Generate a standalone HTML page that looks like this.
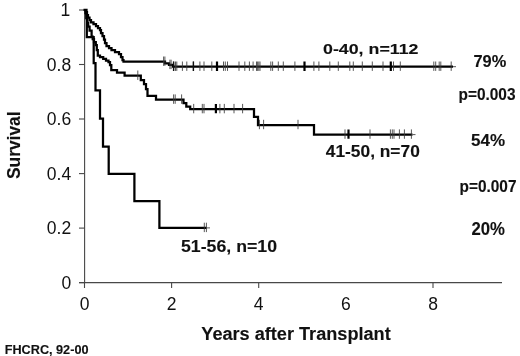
<!DOCTYPE html>
<html><head><meta charset="utf-8"><title>Survival by age</title>
<style>
html,body{margin:0;padding:0;background:#fff;}
body{width:520px;height:356px;overflow:hidden;}
svg{display:block;}
text{font-family:"Liberation Sans",Arial,Helvetica,sans-serif;fill:#111;}
.b{font-weight:bold;stroke:#111;stroke-width:0.12px;}
</style></head><body>
<svg width="520" height="356" viewBox="0 0 520 356">
<rect width="520" height="356" fill="#fff"/>
<g stroke="#484848" stroke-width="1.1" fill="none">
<path d="M84.6,10 V282.6 M79,282.6 H502"/>
<path d="M79,282.6 H84.5"/>
<path d="M79,228.1 H84.5"/>
<path d="M79,173.6 H84.5"/>
<path d="M79,119.0 H84.5"/>
<path d="M79,64.5 H84.5"/>
<path d="M79,10.0 H84.5"/>
<path d="M84.5,282.6 V288"/>
<path d="M171.6,282.6 V288"/>
<path d="M258.7,282.6 V288"/>
<path d="M433.0,282.6 V288"/>
</g>
<g font-size="17.5" text-anchor="end">
<text x="71.2" y="288.9">0</text>
<text x="71.2" y="234.4">0.2</text>
<text x="71.2" y="179.9">0.4</text>
<text x="71.2" y="125.3">0.6</text>
<text x="71.2" y="70.8">0.8</text>
<text x="70.2" y="16.3">1</text>
</g>
<g font-size="17.5" text-anchor="middle">
<text x="84.5" y="309.7">0</text>
<text x="171.6" y="309.7">2</text>
<text x="258.7" y="309.7">4</text>
<text x="345.9" y="309.7">6</text>
<text x="433.0" y="309.7">8</text>
</g>
<g stroke="#000" stroke-width="2.25" fill="none" stroke-linejoin="miter">
<path d="M83.5,9.8 H86.5 V12 H87  V15 H88 V17.5 H89.5 V20 H91 V22.3 H93.5 V24 H96 V26 H98 V28 H100 V30 H101 V33 H102.5 V36 H104 V39.5 H105 V43 H106.5 V46 H109 V48 H111.5 V50 H115 V52 H119 V54 H121 V57 H122.5 V60 H123.5 V61.7 H165 V63.3 H169 V64.9 H173 V66.7 H453"/>
<path d="M85.5,10 V13 H86.3 V18 H87.1 V22.5 H88.2 V26.5 H89.6 V30.5 H91.6 V36.5 H92.7 V39 H94 V42 H95.8 V45 H96.8 V50 H97.8 V55.6 H100 V57 H103.2 V58.8 H106 V60.5 H108.5 V62 H110 V65 H111.3 V70 H117 V72.6 H124.6 V75.7 H140.8 V80 H144 V84 H146 V89 H147.5 V95.8 H156 V99.6 H183.5 V103.2 H186.3 V106.7 H190.2 V109.1 H254 V116.8 H258 V125 H314 V134.6 H412.5"/>
<path d="M85.5,10 L86.8,15 V37 H93.7 V63 H95.5 V90.4 H100 V118.7 H103 V146.7 H108.7 V173.9 H134.4 V201 H159.4 V227.9 H206.5"/>
</g>
<g stroke="#3a3a3a" stroke-width="0.85" fill="none">
<path d="M453,66.7 H456 M412.5,134.6 H415.5 M206.5,227.9 H210"/>
<path d="M163.6,56.5 V65.9 M164.9,56.5 V65.9 M169.9,59.7 V69.1 M171.1,59.7 V69.1 M173.6,61.5 V70.9 M175.5,61.5 V70.9 M176.8,61.5 V70.9 M182.4,61.5 V70.9 M186.8,61.5 V70.9 M193.4,61.5 V70.9 M199.9,61.5 V70.9 M204.0,61.5 V70.9 M211.8,61.5 V70.9 M223.5,61.5 V70.9 M225.3,61.5 V70.9 M227.5,61.5 V70.9 M239.0,61.5 V70.9 M244.8,61.5 V70.9 M249.4,61.5 V70.9 M253.1,61.5 V70.9 M256.5,61.5 V70.9 M257.6,61.5 V70.9 M258.8,61.5 V70.9 M260.0,61.5 V70.9 M270.8,61.5 V70.9 M272.6,61.5 V70.9 M278.3,61.5 V70.9 M283.3,61.5 V70.9 M294.9,61.5 V70.9 M313.9,61.5 V70.9 M318.9,61.5 V70.9 M329.8,61.5 V70.9 M338.3,61.5 V70.9 M349.8,61.5 V70.9 M353.3,61.5 V70.9 M362.3,61.5 V70.9 M372.3,61.5 V70.9 M383.0,61.5 V70.9 M393.5,61.5 V70.9 M400.3,61.5 V70.9 M433.8,61.5 V70.9 M435.7,61.5 V70.9 M439.2,61.5 V70.9 M440.8,61.5 V70.9 M451.2,61.5 V70.9 M137.8,70.5 V79.9 M173.6,94.4 V103.8 M175.2,94.4 V103.8 M181.6,94.4 V103.8 M193.7,103.9 V113.3 M202.3,103.9 V113.3 M204.0,103.9 V113.3 M219.9,103.9 V113.3 M224.3,103.9 V113.3 M234.0,103.9 V113.3 M242.6,103.9 V113.3 M259.4,119.8 V129.2 M263.6,119.8 V129.2 M298.0,119.8 V129.2 M345.0,129.4 V138.8 M370.0,129.4 V138.8 M390.4,129.4 V138.8 M392.3,129.4 V138.8 M394.0,129.4 V138.8 M399.4,129.4 V138.8 M404.4,129.4 V138.8 M411.4,129.4 V138.8 M204.3,222.7 V232.1 M206.4,222.7 V232.1"/>
</g>
<path stroke="#000" stroke-width="2.2" fill="none" d="M217.0,61.5 V70.9 M304.5,61.5 V70.9 M390.8,61.5 V70.9 M215.9,103.9 V113.3 M348.5,129.4 V138.8"/>
<path stroke="#111" stroke-width="1.4" fill="none" d="M173.6,61.5 V70.9 M193.4,61.5 V70.9"/>
<text class="b" x="323" y="53.9" font-size="15.5" textLength="95.5" lengthAdjust="spacingAndGlyphs">0-40, n=112</text>
<text class="b" x="325.8" y="156.7" font-size="15.6" textLength="94" lengthAdjust="spacingAndGlyphs">41-50, n=70</text>
<text class="b" x="181" y="252" font-size="16" textLength="96" lengthAdjust="spacingAndGlyphs">51-56, n=10</text>
<text class="b" x="473.5" y="67.3" font-size="16.5" textLength="32.8" lengthAdjust="spacingAndGlyphs">79%</text>
<text class="b" x="471" y="146.3" font-size="16.9" textLength="34" lengthAdjust="spacingAndGlyphs">54%</text>
<text class="b" x="471.5" y="235.3" font-size="17.5" textLength="33.5" lengthAdjust="spacingAndGlyphs">20%</text>
<text class="b" x="458.5" y="100" font-size="16" textLength="57" lengthAdjust="spacingAndGlyphs">p=0.003</text>
<text class="b" x="459.5" y="192" font-size="16" textLength="57" lengthAdjust="spacingAndGlyphs">p=0.007</text>
<text class="b" x="201.3" y="340.4" font-size="17.5" textLength="189.4" lengthAdjust="spacingAndGlyphs">Years after Transplant</text>
<text class="b" x="4.7" y="353.7" font-size="12.8" textLength="83.8" lengthAdjust="spacingAndGlyphs">FHCRC, 92-00</text>
<text class="b" font-size="18.6" textLength="67.5" lengthAdjust="spacingAndGlyphs" transform="translate(19.8,179) rotate(-90)">Survival</text>
</svg>
</body></html>
